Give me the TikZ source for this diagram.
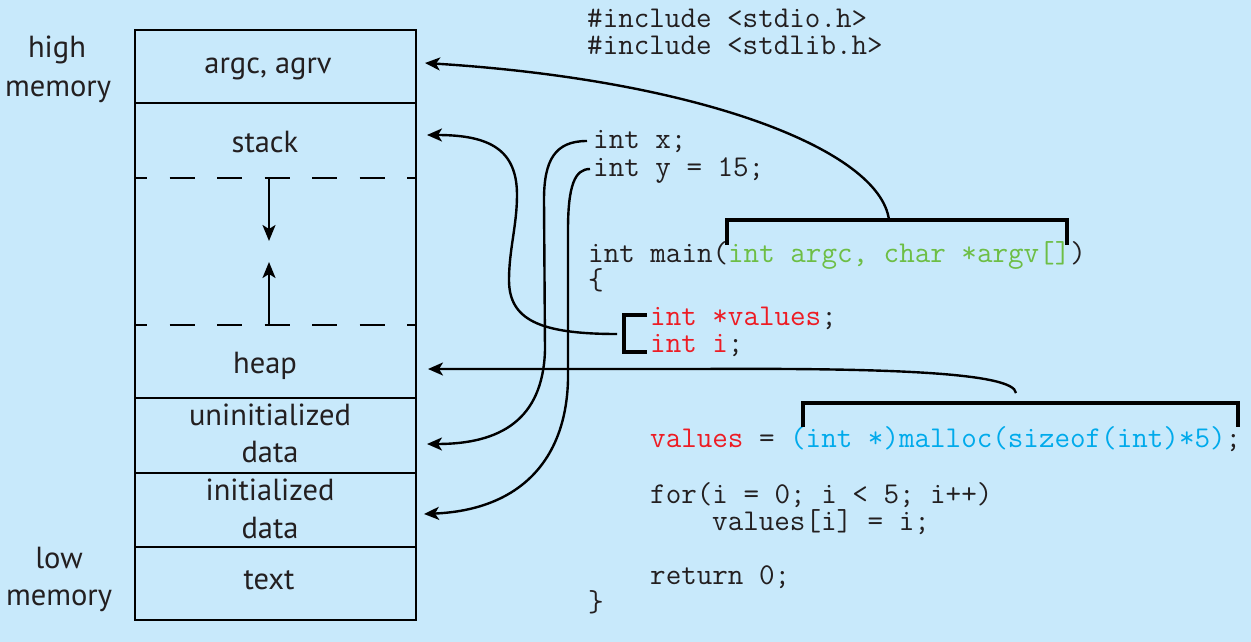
\documentclass[tikz,border=0pt]{standalone}
\usepackage{fontspec}
\setmainfont{PT Sans}
\usetikzlibrary{arrows.meta}
\definecolor{bg}{RGB}{200,233,251}
\definecolor{ink}{RGB}{35,31,32}
\definecolor{cgreen}{RGB}{109,190,69}
\definecolor{cred}{RGB}{237,28,36}
\definecolor{ccyan}{RGB}{0,170,235}

\begin{document}
\begin{tikzpicture}[x=1pt,y=-1pt,
  lbl/.style={anchor=base,inner sep=0pt,text=ink,font=\fontsize{30.5}{34}\selectfont},
  code/.style={anchor=base west,inner sep=0pt,text=ink,text height=18pt,text depth=6pt,
    font=\ttfamily\fontsize{30.2}{27}\selectfont},
  wall/.style={line width=2pt},
  gapline/.style={line width=2pt,dash pattern=on 25pt off 22.5pt,dash phase=13pt},
  link/.style={line width=2.4pt,-{Stealth[length=15pt,width=13pt,inset=4pt]}},
  growarrow/.style={line width=2.2pt,-{Stealth[length=16pt,width=13pt,inset=4pt]}},
  brk/.style={line width=3.5pt}]

% canvas
\fill[bg] (0,0) rectangle (1251,642);
\useasboundingbox (0,0) rectangle (1251,642);

% memory layout column
\draw[wall] (135,30) rectangle (416,620);
\draw[wall] (135,103) -- (416,103);
\draw[wall] (135,398) -- (416,398);
\draw[wall] (135,473) -- (416,473);
\draw[wall] (135,547) -- (416,547);
\draw[gapline] (135,178) -- (416,178);
\draw[gapline] (135,325) -- (416,325);

% stack grows down, heap grows up
\coordinate (sTop) at (269,179);
\coordinate (sTip) at (269,241);
\coordinate (hBot) at (269,325);
\coordinate (hTip) at (269,262);
\draw[growarrow] (sTop) -- (sTip);
\draw[growarrow] (hBot) -- (hTip);

% segment labels
\node[lbl] (segArg) at (268,74) {argc, agrv};
\node[lbl] (segStack) at (265,152) {stack};
\node[lbl] (segHeap) at (265,373) {heap};
\node[lbl] (segBss1) at (270,425) {uninitialized};
\node[lbl] (segBss2) at (270,462) {data};
\node[lbl] (segData1) at (270,500) {initialized};
\node[lbl] (segData2) at (270,538) {data};
\node[lbl] (segText) at (269,589) {text};

\node[lbl] (hi1) at (57,58) {high};
\node[lbl] (hi2) at (58,96) {memory};
\node[lbl] (lo1) at (59,568) {low};
\node[lbl] (lo2) at (59,605) {memory};

% program source
\node[code] (inc1) at (587,28) {\#include <stdio.h>};
\node[code] (inc2) at (587,55) {\#include <stdlib.h>};
\node[code] (decx) at (593,148) {int x;};
\node[code] (decy) at (593,176) {int y = 15;};
\node[code] (mainf) at (588,262) {int main(\textcolor{cgreen}{int argc, char *argv[]})};
\node[code] (ob) at (588,289) {\{};
\node[code] (decv) at (650,325) {\textcolor{cred}{int *values};};
\node[code] (deci) at (650,352) {\textcolor{cred}{int i};};
\node[code] (alloc) at (650,447) {\textcolor{cred}{values} = \textcolor{ccyan}{(int *)malloc(sizeof(int)*5)};};
\node[code] (loop) at (650,503) {for(i = 0; i < 5; i++)};
\node[code] (body) at (712,530) {values[i] = i;};
\node[code] (ret) at (650,584) {return 0;};
\node[code] (cb) at (588,611) {\}};

% brackets around the relevant code
\draw[brk] (727,245) -- (727,220) -- (1067,220) -- (1067,245);
\draw[brk] (803,427) -- (803,403) -- (1238,403) -- (1238,427);
\draw[brk] (647,315) -- (624,315) -- (624,352) -- (647,352);

% connector end points
\coordinate (argvTop) at (889,220);
\coordinate (allocTop) at (1016,393);
\coordinate (localsEnd) at (617,334);
\coordinate (xStart) at (587,141);
\coordinate (yStart) at (590,169);
\coordinate (toArg) at (425,63);
\coordinate (toStack) at (427,135);
\coordinate (toHeap) at (428,369);
\coordinate (toBss) at (427,444);
\coordinate (toData) at (424,514);

% connectors
\draw[link] (argvTop) .. controls (880,150) and (700,80) .. (toArg);
\draw[link] (localsEnd) .. controls (540,334) and (509,320) .. (509,280)
  .. controls (509,250) and (517,225) .. (517,195)
  .. controls (517,150) and (490,135) .. (toStack);
\draw[link] (xStart) .. controls (555,141) and (544,160) .. (544,200)
  -- (545,350) .. controls (543,420) and (500,444) .. (toBss);
\draw[link] (yStart) .. controls (575,169) and (568,185) .. (568,230)
  -- (568,380) .. controls (566,460) and (520,510) .. (toData);
\draw[link] (allocTop) .. controls (1014,372) and (880,368) .. (700,369) -- (toHeap);
\end{tikzpicture}
\end{document}
